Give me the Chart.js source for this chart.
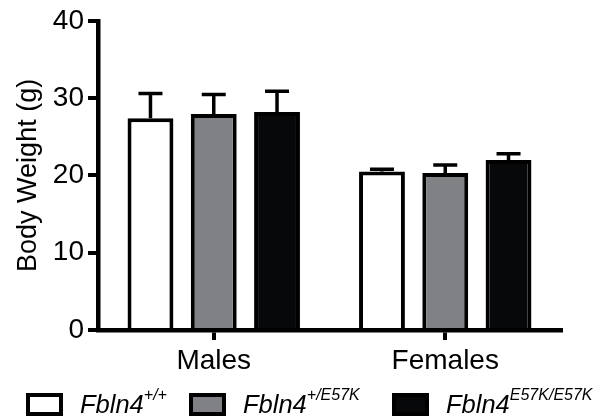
<!DOCTYPE html>
<html>
<head>
<meta charset="utf-8">
<script src="https://cdn.jsdelivr.net/npm/chart.js@4/dist/chart.umd.min.js"></script>
<style>
  html, body { margin: 0; padding: 0; background: #fff; }
  #wrap { position: relative; width: 610px; height: 418px; }
  #c { position: absolute; left: 0; top: 0; }
  .leg { position: absolute; top: 391px; height: 26px; display: flex; align-items: center;
         font-family: "Liberation Sans", Arial, sans-serif; font-style: italic; font-size: 25.5px; color: #000; white-space: nowrap; }
  .leg .box { width: 29px; height: 15px; border: 4px solid #000; margin-right: 17px; }
  .leg sup { font-size: 16px; position: relative; top: -3px; vertical-align: top; line-height: 1; }
</style>
</head>
<body>
<div id="wrap">
  <canvas id="c" width="610" height="418"></canvas>
</div>
<script>
// ---- data ----
const categories = ["Males", "Females"];
const legendBase = "Fbln4";
const genotypes = ["+/+", "+/E57K", "E57K/E57K"];
const wildTypeMeans = [27.4, 20.5];
const wildTypeSEM   = [3.2, 0.3];
const hetMeans      = [27.95, 20.3];
const hetSEM        = [2.5, 1.05];
const homMeans      = [28.2, 22.0];
const homSEM        = [2.7, 0.8];
const yTicks = [0, 10, 20, 30, 40];

const fills = ["#ffffff", "#808185", "#060809"];
const seriesMeans = [wildTypeMeans, hetMeans, homMeans];
const seriesErr = [wildTypeSEM, hetSEM, homSEM];

const datasets = genotypes.map((g, i) => ({
  label: legendBase + g,
  data: seriesMeans[i],
  errors: seriesErr[i],
  backgroundColor: fills[i],
  borderColor: "#000",
  borderWidth: 4,
  borderSkipped: "start",
  categoryPercentage: 0.82,
  barPercentage: 0.725
}));

const errorBars = {
  id: "errorBars",
  afterDatasetsDraw(chart) {
    const ctx = chart.ctx;
    const ys = chart.scales.y;
    ctx.save();
    ctx.strokeStyle = "#000";
    ctx.lineWidth = 3.5;
    chart.data.datasets.forEach((ds, di) => {
      const meta = chart.getDatasetMeta(di);
      meta.data.forEach((bar, j) => {
        const top = ys.getPixelForValue(ds.data[j] + ds.errors[j]);
        const x = bar.x;
        ctx.beginPath();
        ctx.moveTo(x, bar.y);
        ctx.lineTo(x, top);
        ctx.moveTo(x - 12, top);
        ctx.lineTo(x + 12, top);
        ctx.stroke();
      });
    });
    ctx.restore();
  }
};

const font = "'Liberation Sans', Arial, sans-serif";

new Chart(document.getElementById("c"), {
  type: "bar",
  data: { labels: categories, datasets },
  plugins: [errorBars],
  options: {
    responsive: false,
    animation: false,
    devicePixelRatio: 1,
    layout: { padding: { top: 19, right: 49, left: 0, bottom: 0 } },
    plugins: { legend: { display: false }, tooltip: { enabled: false } },
    scales: {
      x: {
        z: 1,
        offset: true,
        grid: { offset: false, drawOnChartArea: false, drawTicks: true, tickLength: 10, color: "#000", lineWidth: 4 },
        border: { display: true, color: "#000", width: 4.5 },
        ticks: { color: "#000", font: { family: font, size: 28 }, padding: 4 },
        afterFit(s) { s.height = 88; }
      },
      y: {
        min: 0, max: 40,
        afterBuildTicks(s) { s.ticks = yTicks.map(v => ({ value: v })); },
        grid: { drawOnChartArea: false, drawTicks: true, tickLength: 10, color: "#000", lineWidth: 4 },
        border: { display: true, color: "#000", width: 4.5 },
        ticks: { color: "#000", font: { family: font, size: 28 }, padding: 4 },
        title: { display: true, text: "Body Weight (g)", color: "#000", font: { family: font, size: 27 }, padding: { top: 12, bottom: 0 } },
        afterFit(s) { s.width = 98; }
      }
    }
  }
});

// HTML legend built from the datasets
const legendLeft = [26, 189, 392];
const wrap = document.getElementById("wrap");
datasets.forEach((ds, i) => {
  const item = document.createElement("div");
  item.className = "leg";
  item.style.left = legendLeft[i] + "px";
  const box = document.createElement("span");
  box.className = "box";
  box.style.background = ds.backgroundColor;
  const txt = document.createElement("span");
  txt.innerHTML = legendBase + "<sup>" + genotypes[i] + "</sup>";
  item.appendChild(box);
  item.appendChild(txt);
  wrap.appendChild(item);
});
</script>
</body>
</html>
